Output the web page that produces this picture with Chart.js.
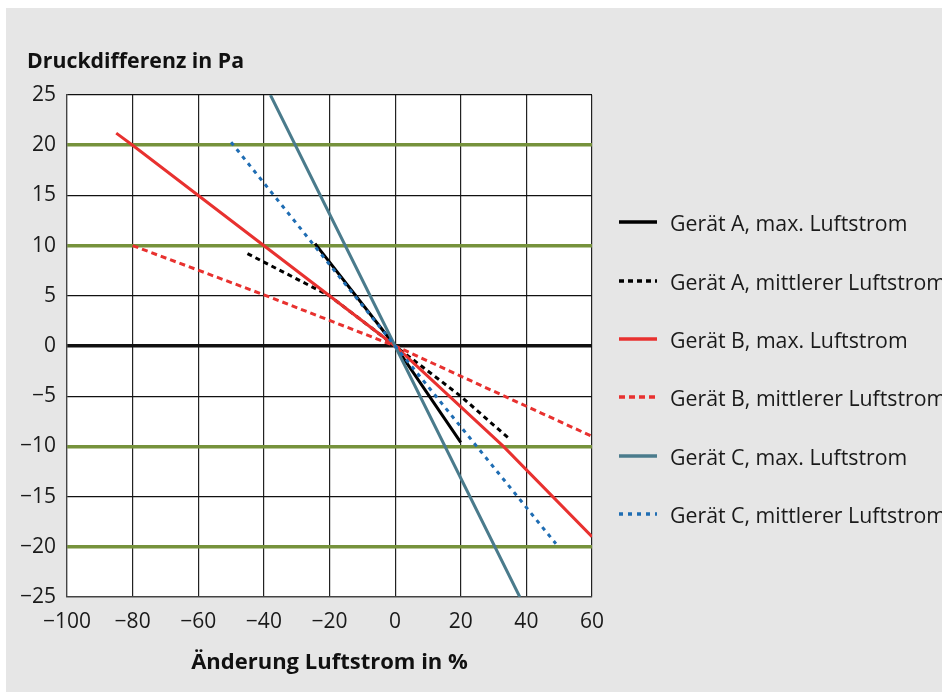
<!DOCTYPE html>
<html><head><meta charset="utf-8">
<script src="https://cdn.jsdelivr.net/npm/chart.js@4"></script>
<style>
html,body{margin:0;padding:0;background:#fff;}
#wrap{position:relative;width:942px;height:692px;overflow:hidden;}
#bg{position:absolute;left:6px;top:8px;width:936px;height:684px;background:#e6e6e6;}
#c{position:absolute;left:0;top:0;}
#ytitle{position:absolute;left:27px;top:45px;font-family:"Open Sans";font-weight:bold;font-size:21.3px;line-height:30px;color:#111;white-space:nowrap;}
.item{position:absolute;left:619px;height:30px;display:flex;align-items:center;white-space:nowrap;font-family:"Open Sans";font-size:21.3px;color:#1a1a1a;}
.item svg{margin-right:13px;}
</style></head>
<body>
<div id="wrap">
  <div id="bg"></div>
  <canvas id="c" width="942" height="692"></canvas>
  <div id="ytitle">Druckdifferenz in Pa</div>
  <div id="legend"></div>
</div>
<script>
// ---- data ----
const yTitle = "Druckdifferenz in Pa";
const xTitle = "Änderung Luftstrom in %";
const xTickValues = [-100, -80, -60, -40, -20, 0, 20, 40, 60];
const yTickValues = [-25, -20, -15, -10, -5, 0, 5, 10, 15, 20, 25];

const seriesNames = [
  "Gerät A, max. Luftstrom",
  "Gerät A, mittlerer Luftstrom",
  "Gerät B, max. Luftstrom",
  "Gerät B, mittlerer Luftstrom",
  "Gerät C, max. Luftstrom",
  "Gerät C, mittlerer Luftstrom"
];
const aMaxX = [-24.4, 0, 20];       const aMaxY = [10.2, 0, -9.6];
const aMidX = [-45, -20, 0, 20, 35]; const aMidY = [9.2, 5.0, 0, -5.0, -9.3];
const bMaxX = [-85, -80, 0, 33, 60]; const bMaxY = [21.2, 20, 0, -10, -19.0];
const bMidX = [-80, -40, 0, 40, 60]; const bMidY = [10, 5.1, 0, -6.0, -9.0];
const cMaxX = [-38, 0, 38];          const cMaxY = [25, 0, -25];
const cMidX = [-50, 0, 49];          const cMidY = [20.3, 0, -19.7];

const colors = ['#000000', '#000000', '#e8312f', '#e8312f', '#4a7b8c', '#1f6db3'];
const dashes = [[], [5, 4], [], [6, 4], [], [4, 5]];
const xs = [aMaxX, aMidX, bMaxX, bMidX, cMaxX, cMidX];
const ys = [aMaxY, aMidY, bMaxY, bMidY, cMaxY, cMidY];

const datasets = seriesNames.map((name, i) => ({
  label: name,
  data: xs[i].map((x, j) => ({x: x, y: ys[i][j]})),
  borderColor: colors[i],
  borderWidth: 3,
  borderDash: dashes[i],
  pointRadius: 0,
  showLine: true,
  fill: false,
  tension: 0,
  order: 6 - i
}));

const FONT = '"Open Sans", sans-serif';

const bgPlugin = {
  id: 'bgPlugin',
  beforeDraw(chart) {
    const {ctx, chartArea: a} = chart;
    ctx.save();
    ctx.fillStyle = '#ffffff';
    ctx.fillRect(a.left, a.top, a.right - a.left, a.bottom - a.top);
    ctx.restore();
  }
};

const fmt = v => (v < 0 ? '\u2212' + Math.abs(v) : String(v));

const chart = new Chart(document.getElementById('c'), {
  type: 'scatter',
  data: {datasets},
  plugins: [bgPlugin],
  options: {
    responsive: false,
    animation: false,
    events: [],
    layout: {padding: {left: 0, right: 350, top: 95, bottom: 0}},
    plugins: {legend: {display: false}, tooltip: {enabled: false}, title: {display: false}},
    scales: {
      x: {
        type: 'linear', min: -100, max: 60,
        afterBuildTicks: s => { s.ticks = xTickValues.map(v => ({value: v})); },
        afterFit: s => { s.height = 95; },
        ticks: {callback: fmt, color: '#1a1a1a', font: {family: FONT, size: 21}, padding: 12, maxRotation: 0, autoSkip: false},
        grid: {color: '#222', lineWidth: 1.2, drawTicks: false},
        border: {display: true, color: '#444', width: 1.2},
        title: {display: true, text: xTitle, color: '#111', font: {family: FONT, size: 22, weight: 'bold'}, padding: {top: 0, bottom: 16}}
      },
      y: {
        type: 'linear', min: -25, max: 25,
        afterBuildTicks: s => { s.ticks = yTickValues.map(v => ({value: v})); },
        afterFit: s => { s.width = 67; },
        ticks: {callback: fmt, color: '#1a1a1a', font: {family: FONT, size: 21}, padding: 11, autoSkip: false},
        grid: {
          drawTicks: false,
          color: c => (Math.abs(c.tick.value) === 10 || Math.abs(c.tick.value) === 20) ? '#76923c' : '#111',
          lineWidth: c => (Math.abs(c.tick.value) === 10 || Math.abs(c.tick.value) === 20) ? 3.5 : (c.tick.value === 0 ? 3.5 : 1.2)
        },
        border: {display: true, color: '#444', width: 1.2}
      }
    }
  }
});

// HTML legend built from the chart's datasets
const legend = document.getElementById('legend');
const rowY = [222, 281, 339, 397, 456, 514];
chart.data.datasets.forEach((ds, i) => {
  const row = document.createElement('div');
  row.className = 'item';
  row.style.top = (rowY[i] - 15) + 'px';
  const dash = ds.borderDash.length ? ds.borderDash.join(' ') : 'none';
  row.innerHTML = '<svg width="38" height="8"><line x1="0" y1="4" x2="38" y2="4" stroke="' + ds.borderColor +
    '" stroke-width="3.5" stroke-dasharray="' + dash + '"/></svg>';
  const span = document.createElement('span');
  span.textContent = ds.label;
  row.appendChild(span);
  legend.appendChild(row);
});
</script>
</body></html>
